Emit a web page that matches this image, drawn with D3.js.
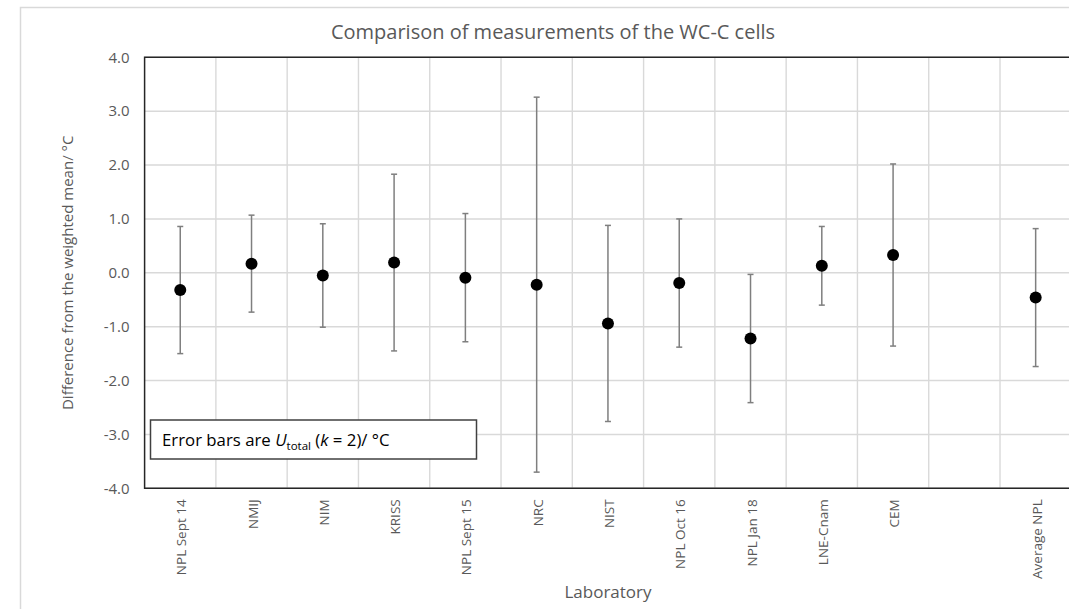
<!DOCTYPE html>
<html>
<head>
<meta charset="utf-8">
<title>WC-C cells</title>
<script src="https://cdn.jsdelivr.net/npm/d3@7"></script>
<style>
    body { margin: 0; background: #fff; }
    text { font-family: "Open Sans", sans-serif; }
</style>
</head>
<body>
<script>
    // data
    var labs   = ["NPL Sept 14", "NMIJ", "NIM", "KRISS", "NPL Sept 15", "NRC", "NIST",
                  "NPL Oct 16", "NPL Jan 18", "LNE-Cnam", "CEM", " ", "Average NPL"];
    var diff   = [-0.32, 0.17, -0.05, 0.19, -0.09, -0.22, -0.94, -0.19, -1.22, 0.13, 0.33, null, -0.46];
    var uTotal = [1.18, 0.90, 0.96, 1.64, 1.19, 3.48, 1.82, 1.19, 1.19, 0.73, 1.69, null, 1.28];
    var yTicks = [-4, -3, -2, -1, 0, 1, 2, 3, 4];

    var W = 1069, H = 609;
    var pLeft = 144.6, pRight = 1071.3, pTop = 57.3, pBottom = 488.3;

    var svg = d3.select("body").append("svg")
            .attr("width", W)
            .attr("height", H);

    // chart area border
    svg.append("rect")
            .attr("x", 20.5).attr("y", 7.5)
            .attr("width", W + 20).attr("height", H + 20)
            .attr("fill", "none")
            .attr("stroke", "#d9d9d9")
            .attr("stroke-width", 1.5);

    var x = d3.scaleBand().domain(labs).range([pLeft, pRight]);
    var y = d3.scaleLinear().domain([-4, 4]).range([pBottom, pTop]);

    // gridlines
    svg.append("g").selectAll("line")
            .data(yTicks)
            .enter().append("line")
            .attr("x1", pLeft).attr("x2", pRight)
            .attr("y1", function(d) { return y(d); })
            .attr("y2", function(d) { return y(d); })
            .attr("stroke", "#d9d9d9")
            .attr("stroke-width", 1.4);

    svg.append("g").selectAll("line")
            .data(labs.slice(1))
            .enter().append("line")
            .attr("x1", function(d) { return x(d); })
            .attr("x2", function(d) { return x(d); })
            .attr("y1", pTop).attr("y2", pBottom)
            .attr("stroke", "#d9d9d9")
            .attr("stroke-width", 1.4);

    // plot border (top, left, bottom)
    svg.append("path")
            .attr("d", "M" + pRight + "," + pTop + "H" + pLeft + "V" + pBottom + "H" + pRight)
            .attr("fill", "none")
            .attr("stroke", "#262626")
            .attr("stroke-width", 1.5);

    // y axis (plain hyphen for negatives, like the original)
    var fmt = d3.format(".1f");
    var yAxis = svg.append("g")
            .attr("transform", "translate(" + pLeft + ",0)")
            .call(d3.axisLeft(y).tickValues(yTicks).tickSize(0).tickPadding(15)
                .tickFormat(function(d) { return fmt(d).replace("\u2212", "-"); }));
    yAxis.select(".domain").remove();
    yAxis.selectAll("text")
            .attr("fill", "#595959")
            .style("font-size", "15px");

    // x axis labels
    var xAxis = svg.append("g")
            .attr("transform", "translate(0," + pBottom + ")")
            .call(d3.axisBottom(x).tickSize(0));
    xAxis.select(".domain").remove();
    xAxis.selectAll("text")
            .attr("fill", "#595959")
            .style("font-size", "13.5px")
            .attr("text-anchor", "end")
            .attr("dy", null)
            .attr("dominant-baseline", "central")
            .attr("transform", "translate(1,11) rotate(-90)")
            .attr("x", 0).attr("y", 0);

    // error bars
    var pts = labs.map(function(l, i) { return {lab: l, v: diff[i], u: uTotal[i]}; })
            .filter(function(d) { return d.v !== null; });

    var eb = svg.append("g").selectAll("g")
            .data(pts)
            .enter().append("g")
            .attr("transform", function(d) { return "translate(" + (x(d.lab) + x.bandwidth() / 2) + ",0)"; });

    eb.append("line")
            .attr("y1", function(d) { return y(d.v + d.u); })
            .attr("y2", function(d) { return y(d.v - d.u); })
            .attr("stroke", "#7f7f7f").attr("stroke-width", 1.5);
    eb.append("line")
            .attr("x1", -3).attr("x2", 3)
            .attr("y1", function(d) { return y(d.v + d.u); })
            .attr("y2", function(d) { return y(d.v + d.u); })
            .attr("stroke", "#7f7f7f").attr("stroke-width", 1.5);
    eb.append("line")
            .attr("x1", -3).attr("x2", 3)
            .attr("y1", function(d) { return y(d.v - d.u); })
            .attr("y2", function(d) { return y(d.v - d.u); })
            .attr("stroke", "#7f7f7f").attr("stroke-width", 1.5);
    eb.append("circle")
            .attr("cy", function(d) { return y(d.v); })
            .attr("r", 6)
            .attr("fill", "#000");

    // note box
    svg.append("rect")
            .attr("x", 150.5).attr("y", 420)
            .attr("width", 326).attr("height", 39)
            .attr("fill", "#fff")
            .attr("stroke", "#404040")
            .attr("stroke-width", 1.5);
    var note = svg.append("text")
            .attr("x", 162).attr("y", 446)
            .attr("fill", "#000")
            .style("font-size", "16.8px");
    note.append("tspan").text("Error bars are ");
    note.append("tspan").style("font-style", "italic").text("U");
    note.append("tspan").attr("dy", 4).style("font-size", "11.5px").text("total");
    note.append("tspan").attr("dy", -4).text(" (");
    note.append("tspan").style("font-style", "italic").text("k");
    note.append("tspan").text(" = 2)/ °C");

    // titles
    svg.append("text")
            .attr("x", 553).attr("y", 39)
            .attr("text-anchor", "middle")
            .attr("fill", "#595959")
            .style("font-size", "20px")
            .text("Comparison of measurements of the WC-C cells");

    svg.append("text")
            .attr("x", 608).attr("y", 598)
            .attr("text-anchor", "middle")
            .attr("fill", "#595959")
            .style("font-size", "17px")
            .text("Laboratory");

    svg.append("text")
            .attr("transform", "translate(73," + ((pTop + pBottom) / 2) + ") rotate(-90)")
            .attr("text-anchor", "middle")
            .attr("fill", "#595959")
            .style("font-size", "15px")
            .text("Difference from the weighted mean/ °C");
</script>
</body>
</html>
